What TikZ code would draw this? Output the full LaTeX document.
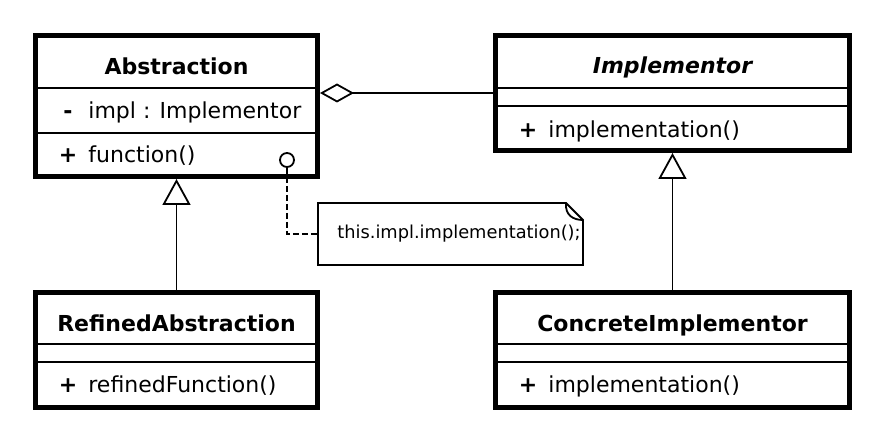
\documentclass[tikz,border=0pt]{standalone}
\usepackage{fontspec}
\setmainfont{DejaVu Sans}
\usetikzlibrary{positioning, calc, arrows.meta}

\begin{document}
\begin{tikzpicture}[x=0.5pt, y=-0.5pt,
    font=\fontsize{11}{13}\selectfont,
    classbox/.style={draw, line width=2.5pt, inner sep=0pt},
    divider/.style={line width=1pt},
    title/.style={anchor=base, inner sep=0pt, font=\fontsize{11}{13}\selectfont\bfseries},
    sign/.style={anchor=base, inner sep=0pt, font=\fontsize{11}{13}\selectfont\bfseries},
    member/.style={anchor=base west, inner sep=0pt},
    inherit/.style={-{Triangle[open, length=13pt, width=14pt]}, line width=0.9pt},
    aggregation/.style={-{Diamond[open, length=17pt, width=9.5pt]}, line width=0.9pt}]

    \useasboundingbox (0,0) rectangle (885,443);

    % Abstraction
    \node[classbox, minimum width=141pt, minimum height=70.5pt] (abs) at (176.5,106) {};
    \draw[divider] (abs.west |- 0,88) -- (abs.east |- 0,88);
    \draw[divider] (abs.west |- 0,133) -- (abs.east |- 0,133);
    \node[title] (absname) at (176.5,75) {Abstraction};
    \node[sign] (absminus) at (68,119) {-};
    \node[member] (absattr) at (88,119) {impl : Implementor};
    \node[sign] (absplus) at (68,163) {+};
    \node[member] (absop) at (88,163) {function()};

    % Implementor
    \node[classbox, minimum width=177pt, minimum height=57.5pt] (impl) at (672.5,93) {};
    \draw[divider] (impl.west |- 0,88) -- (impl.east |- 0,88);
    \draw[divider] (impl.west |- 0,106) -- (impl.east |- 0,106);
    \node[title, font=\fontsize{11}{13}\selectfont\bfseries\itshape] (implname) at (672.5,74) {Implementor};
    \node[sign] (implplus) at (528,138) {+};
    \node[member] (implop) at (548,138) {implementation()};

    % RefinedAbstraction
    \node[classbox, minimum width=141pt, minimum height=57.5pt] (refined) at (176.5,350) {};
    \draw[divider] (refined.west |- 0,344) -- (refined.east |- 0,344);
    \draw[divider] (refined.west |- 0,362) -- (refined.east |- 0,362);
    \node[title] (refinedname) at (176.5,332) {RefinedAbstraction};
    \node[sign] (refinedplus) at (68,393) {+};
    \node[member] (refinedop) at (88,393) {refinedFunction()};

    % ConcreteImplementor
    \node[classbox, minimum width=177pt, minimum height=57.5pt] (concrete) at (672.5,350) {};
    \draw[divider] (concrete.west |- 0,344) -- (concrete.east |- 0,344);
    \draw[divider] (concrete.west |- 0,362) -- (concrete.east |- 0,362);
    \node[title] (concretename) at (672.5,332) {ConcreteImplementor};
    \node[sign] (concreteplus) at (528,393) {+};
    \node[member] (concreteop) at (548,393) {implementation()};

    % Relations
    \draw[aggregation] (impl.west) -- (abs.east |- impl.west);
    \draw[inherit] (refined.north) -- (abs.south);
    \draw[inherit] (concrete.north) -- (impl.south);

    % Note
    \node[draw, circle, minimum size=7pt, inner sep=0pt, line width=0.9pt] (hook) at (287,160) {};
    \node[minimum width=132.5pt, minimum height=31pt, inner sep=0pt, outer sep=0pt] (note) at (450.5,234) {};
    \draw[line width=0.9pt] (note.south west) |- ($(note.north east)+(-17,0)$)
        -- ($(note.north east)+(0,17)$) -- (note.south east) -- cycle;
    \draw[line width=0.9pt] ($(note.north east)+(-17,0)$)
        .. controls ($(note.north east)+(-18,12)$) and ($(note.north east)+(-10,17)$) .. ($(note.north east)+(0,17)$);
    \node[anchor=base west, inner sep=0pt, font=\fontsize{8.9}{11}\selectfont] (notetext) at (337,239) {this.impl.implementation();};
    \draw[line width=0.9pt, dash pattern=on 3pt off 1.5pt] (hook.south) |- (note.west);
\end{tikzpicture}
\end{document}
